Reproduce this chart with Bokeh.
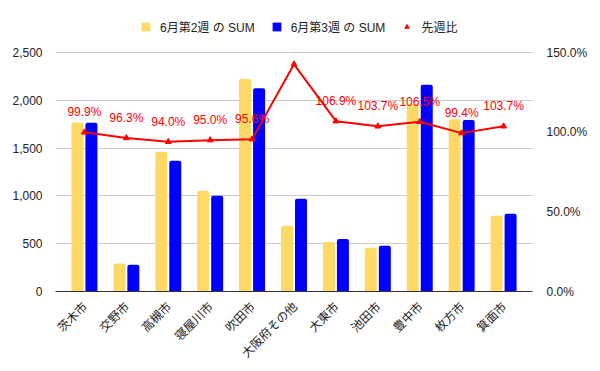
from bokeh.plotting import figure
from bokeh.models import (ColumnDataSource, FactorRange, Range1d, LinearAxis, FixedTicker,
                          NumeralTickFormatter, Legend, LegendItem)
from bokeh.transform import dodge
from bokeh.embed import file_html
from bokeh.resources import INLINE
from bokeh.core.properties import value
import math

cities = ["茨木市", "交野市", "高槻市", "寝屋川市", "吹田市", "大阪府その他", "大東市", "池田市", "豊中市", "枚方市", "箕面市"]
week2 = [1768, 292, 1461, 1053, 2222, 688, 518, 457, 1960, 1803, 792]
week3 = [1766, 280, 1367, 1001, 2127, 970, 550, 478, 2162, 1793, 812]
ratio = [0.999, 0.963, 0.940, 0.950, 0.956, 1.426, 1.069, 1.037, 1.065, 0.994, 1.037]
label_hidden = ["大阪府その他"]
left_ticks = [0, 500, 1000, 1500, 2000, 2500]
right_ticks = [0, 0.5, 1.0, 1.5]

FONT = "Liberation Sans, Noto Sans CJK JP"
CJK = "Noto Sans CJK JP, Liberation Sans"

# layout (page pixels): frame from y=10 to y=291, top gridline (2500 / 150%) at y=52
W, H = 600, 371
TOP, BOTTOM, GRID_TOP = 10, 291, 52
headroom = (BOTTOM - TOP) / (BOTTOM - GRID_TOP)

src = ColumnDataSource(dict(city=cities, w2=week2, w3=week3, ratio=ratio))
lab_idx = [i for i, c in enumerate(cities) if c not in label_hidden]
lab_src = ColumnDataSource(dict(
    city=[cities[i] for i in lab_idx],
    ratio=[ratio[i] for i in lab_idx],
    txt=[f"{ratio[i]*100:.1f}%" for i in lab_idx],
))

p = figure(width=W, height=H,
           x_range=FactorRange(*cities, range_padding=0.19, range_padding_units="absolute"),
           y_range=Range1d(0, left_ticks[-1] * headroom),
           output_backend="svg", toolbar_location=None,
           min_border_left=55, min_border_right=68, min_border_bottom=H - BOTTOM, min_border_top=TOP)
p.outline_line_color = None
p.background_fill_color = "white"
p.border_fill_color = "white"
p.extra_y_ranges = {"ratio": Range1d(0, right_ticks[-1] * headroom)}

r1 = p.vbar(x=dodge("city", -0.167, range=p.x_range), top="w2", width=0.286, source=src,
            fill_color="#FFD966", line_color=None, border_radius=(2, 2, 0, 0))
r2 = p.vbar(x=dodge("city", 0.167, range=p.x_range), top="w3", width=0.286, source=src,
            fill_color="#0000FF", line_color=None, border_radius=(2, 2, 0, 0))
p.line("city", "ratio", source=src, y_range_name="ratio", line_color="#FF0000", line_width=2)
r3 = p.scatter("city", "ratio", source=src, y_range_name="ratio", marker="triangle", size=6,
               fill_color="#FF0000", line_color="#FF0000")
p.text("city", "ratio", text="txt", source=lab_src, y_range_name="ratio",
       text_color="#FF0000", text_font=value(FONT), text_font_size="12px",
       text_align="center", text_baseline="bottom", y_offset=-13)

# axes
yl = p.yaxis[0]
yl.ticker = FixedTicker(ticks=left_ticks)
yl.formatter = NumeralTickFormatter(format="0,0")
yl.axis_line_color = None
yl.major_tick_line_color = None
yl.minor_tick_line_color = None
yl.major_label_standoff = 7
yl.major_label_text_font = FONT
yl.major_label_text_font_size = "12px"
yl.major_label_text_color = "#222222"

yr = LinearAxis(y_range_name="ratio", ticker=FixedTicker(ticks=right_ticks),
                formatter=NumeralTickFormatter(format="0.0%"))
yr.axis_line_color = None
yr.major_tick_line_color = None
yr.minor_tick_line_color = None
yr.major_label_standoff = 8
yr.major_label_text_font = FONT
yr.major_label_text_font_size = "12px"
yr.major_label_text_color = "#222222"
p.add_layout(yr, "right")

xa = p.xaxis[0]
xa.axis_line_color = "#333333"
xa.major_tick_line_color = None
xa.minor_tick_line_color = None
xa.major_label_orientation = math.pi / 4
xa.major_label_standoff = 6
xa.major_label_text_font = CJK
xa.major_label_text_font_size = "12px"
xa.major_label_text_color = "#222222"

p.xgrid.grid_line_color = None
p.ygrid.grid_line_color = "#cccccc"
p.ygrid.ticker = FixedTicker(ticks=left_ticks)

legend = Legend(items=[LegendItem(label="6月第2週 の SUM", renderers=[r1]),
                       LegendItem(label="6月第3週 の SUM", renderers=[r2]),
                       LegendItem(label="先週比", renderers=[r3])],
                orientation="horizontal", location=(85, 256),
                border_line_color=None, background_fill_alpha=0,
                label_text_font=FONT, label_text_font_size="12px", label_text_color="#222222",
                glyph_width=11, glyph_height=11, spacing=16, label_standoff=9,
                padding=2, margin=0)
p.add_layout(legend, "center")

open("out.html", "w").write(file_html(p, INLINE))
